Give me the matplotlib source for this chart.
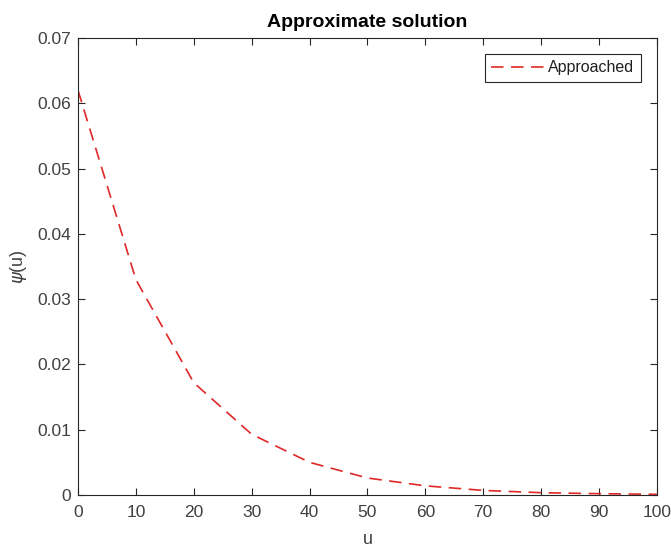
import matplotlib
matplotlib.use("Agg")
import matplotlib.pyplot as plt

u = [0, 10, 20, 30, 40, 50, 60, 70, 80, 90, 100]
psi = [0.0620, 0.0330, 0.0172, 0.0093, 0.0050, 0.0026, 0.0014, 0.0007, 0.00035, 0.0002, 0.0001]
xticks = [0, 10, 20, 30, 40, 50, 60, 70, 80, 90, 100]
yticks = [0, 0.01, 0.02, 0.03, 0.04, 0.05, 0.06, 0.07]
ytick_labels = ['0', '0.01', '0.02', '0.03', '0.04', '0.05', '0.06', '0.07']

plt.rcParams['font.family'] = ['Liberation Sans', 'DejaVu Sans']
fig = plt.figure(figsize=(6.71, 5.47), dpi=100)
ax = fig.add_axes([0.1162, 0.0951, 0.979 - 0.1162, 0.9305 - 0.0951])
axc = '#262626'
txtc = '#404040'
ax.plot(u, psi, linestyle=(0, (7.5, 4.5)), color='#e02828', linewidth=1.2, label='Approached')
ax.set_xlim(0, 100)
ax.set_ylim(0, 0.07)
ax.set_xticks(xticks)
ax.set_yticks(yticks)
ax.set_yticklabels(ytick_labels)
ax.tick_params(direction='in', top=True, right=True, labelsize=12.5, colors=axc,
               labelcolor=txtc, length=5, width=0.8)
ax.tick_params(axis='x', pad=7)
ax.tick_params(axis='y', pad=5)
for s in ax.spines.values():
    s.set_color(axc)
    s.set_linewidth(0.8)
ax.set_xlabel('u', fontsize=13, color=txtc, labelpad=8)
ax.set_ylabel(r'$\psi$(u)', fontsize=13, color=txtc, labelpad=6)
ax.set_title('Approximate solution', fontsize=14, fontweight='bold', pad=8)
leg = ax.legend(loc='upper right', fontsize=11.5, fancybox=False, framealpha=1,
                edgecolor=axc, handlelength=3.4, handletextpad=0.2, borderaxespad=1.0,
                borderpad=0.4)
leg.get_frame().set_linewidth(0.8)
for t in leg.get_texts():
    t.set_color('#202020')
fig.savefig('out.png', dpi=100)
